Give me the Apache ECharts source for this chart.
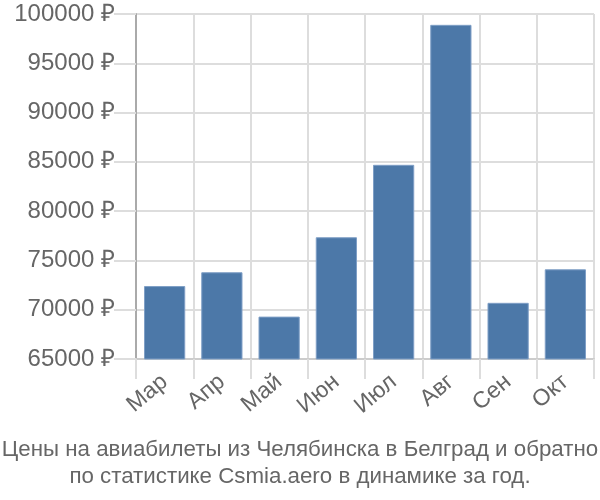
<!DOCTYPE html>
<html><head><meta charset="utf-8">
<script src="https://cdn.jsdelivr.net/npm/echarts@6/dist/echarts.min.js"></script>
<style>html,body{margin:0;padding:0;background:#fff}#c{width:600px;height:500px}</style>
</head><body><div id="c"></div>
<script>
const categories = ['Мар','Апр','Май','Июн','Июл','Авг','Сен','Окт'];
const prices = [72400, 73800, 69300, 77350, 84700, 98900, 70700, 74100];
const titleLines = ['Цены на авиабилеты из Челябинска в Белград и обратно','по статистике Csmia.aero в динамике за год.'];
const FONT = 'Liberation Sans';
const chart = echarts.init(document.getElementById('c'));
chart.setOption({
  animation: false,
  title: {
    text: titleLines.join('\n'), left: 'center', top: 431,
    textStyle: {fontFamily: FONT, fontSize: 22.3, fontWeight: 'normal', color: '#666', lineHeight: 27}
  },
  grid: {left: 136, right: 6, top: 14, bottom: 141, containLabel: false},
  xAxis: {
    type: 'category', data: categories,
    axisLine: {show: true, lineStyle: {color: '#ccc', width: 2}},
    axisTick: {show: true, length: 20, lineStyle: {color: '#ddd', width: 2}},
    splitLine: {show: true, lineStyle: {color: '#ddd', width: 2}},
    axisLabel: {rotate: 40, fontFamily: FONT, fontSize: 23, color: '#666', margin: 20, interval: 0}
  },
  yAxis: {
    type: 'value', min: 65000, max: 100000, interval: 5000,
    axisLine: {show: true, lineStyle: {color: '#aaa', width: 2}},
    axisTick: {show: true, length: 22, lineStyle: {color: '#ddd', width: 2}},
    splitLine: {show: true, lineStyle: {color: '#ddd', width: 2}},
    axisLabel: {formatter: v => v + ' ₽', fontFamily: FONT, fontSize: 24, color: '#666', margin: 21}
  },
  series: [{
    type: 'bar', data: prices, barCategoryGap: '28%',
    itemStyle: {color: '#4c78a8', borderColor: '#7f9fc6', borderWidth: 1}
  }]
});
</script></body></html>
